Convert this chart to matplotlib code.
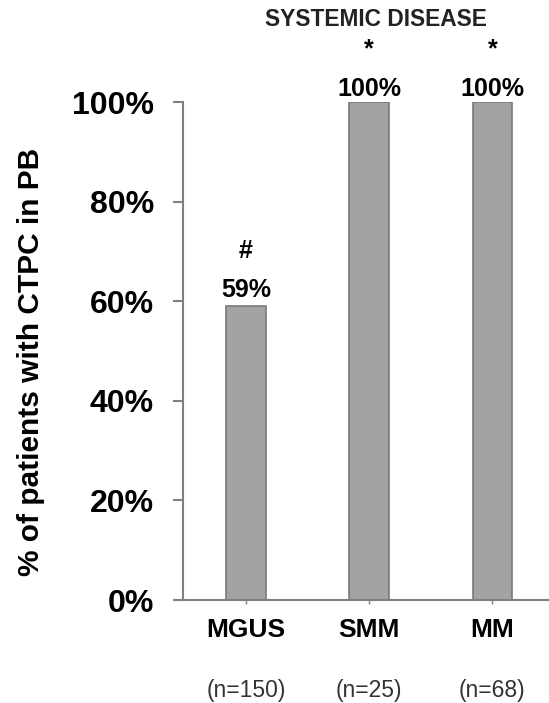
import matplotlib
matplotlib.use("Agg")
import matplotlib.pyplot as plt
from matplotlib.transforms import blended_transform_factory

plt.rcParams['font.family'] = ['Liberation Sans', 'DejaVu Sans']

groups = ['MGUS', 'SMM', 'MM']
counts = ['(n=150)', '(n=25)', '(n=68)']
values = [0.59, 1.00, 1.00]
marks = ['#', '*', '*']
yticks = [0, 0.2, 0.4, 0.6, 0.8, 1.0]
ytick_labels = ['0%', '20%', '40%', '60%', '80%', '100%']

fig = plt.figure(figsize=(5.49, 7.03), dpi=100)
ax = fig.add_axes([0.3333, 0.1465, 0.6667, 0.7084])

x = range(len(groups))
ax.bar(x, values, width=0.32, color='#a3a3a3', edgecolor='#7a7a7a', linewidth=1.2)

ax.set_ylim(0, 1)
ax.set_xlim(-0.512, 2.46)
ax.set_yticks(yticks)
ax.set_yticklabels(ytick_labels, fontsize=23, fontweight='bold')
ax.set_xticks(list(x))
ax.set_xticklabels(groups, fontsize=19, fontweight='bold')
ax.tick_params(axis='y', direction='out', length=7, width=1.5, color='#808080', pad=14)
ax.tick_params(axis='x', direction='out', length=3, width=1, color='#808080', pad=10)

for s in ['top', 'right']:
    ax.spines[s].set_visible(False)
for s in ['left', 'bottom']:
    ax.spines[s].set_color('#808080')
    ax.spines[s].set_linewidth(1.5)

fig.text(31 / 549, 1 - 362 / 703, '% of patients with CTPC in PB', rotation=90,
         ha='center', va='center', fontsize=21.5, fontweight='bold')

# value labels and significance marks
for i, v in enumerate(values):
    off = 1 if v >= 1 else 3
    ax.annotate(f'{round(v * 100)}%', (i, v), xytext=(0, off), textcoords='offset points',
                ha='center', va='bottom', fontsize=18, fontweight='bold')
    ax.annotate(marks[i], (i, v), xytext=(0, off + 28), textcoords='offset points',
                ha='center', va='bottom', fontsize=18, fontweight='bold')

trans = blended_transform_factory(ax.transData, fig.transFigure)
for i, c in enumerate(counts):
    ax.text(i, 1 - 690 / 703, c, transform=trans, ha='center', va='center', fontsize=16.5, color='#333333')

fig.text(376 / 549, 1 - 20 / 703, 'SYSTEMIC DISEASE', ha='center', va='center',
         fontsize=16.4, fontweight='bold', color='#222222')

fig.savefig('out.png', dpi=100)
